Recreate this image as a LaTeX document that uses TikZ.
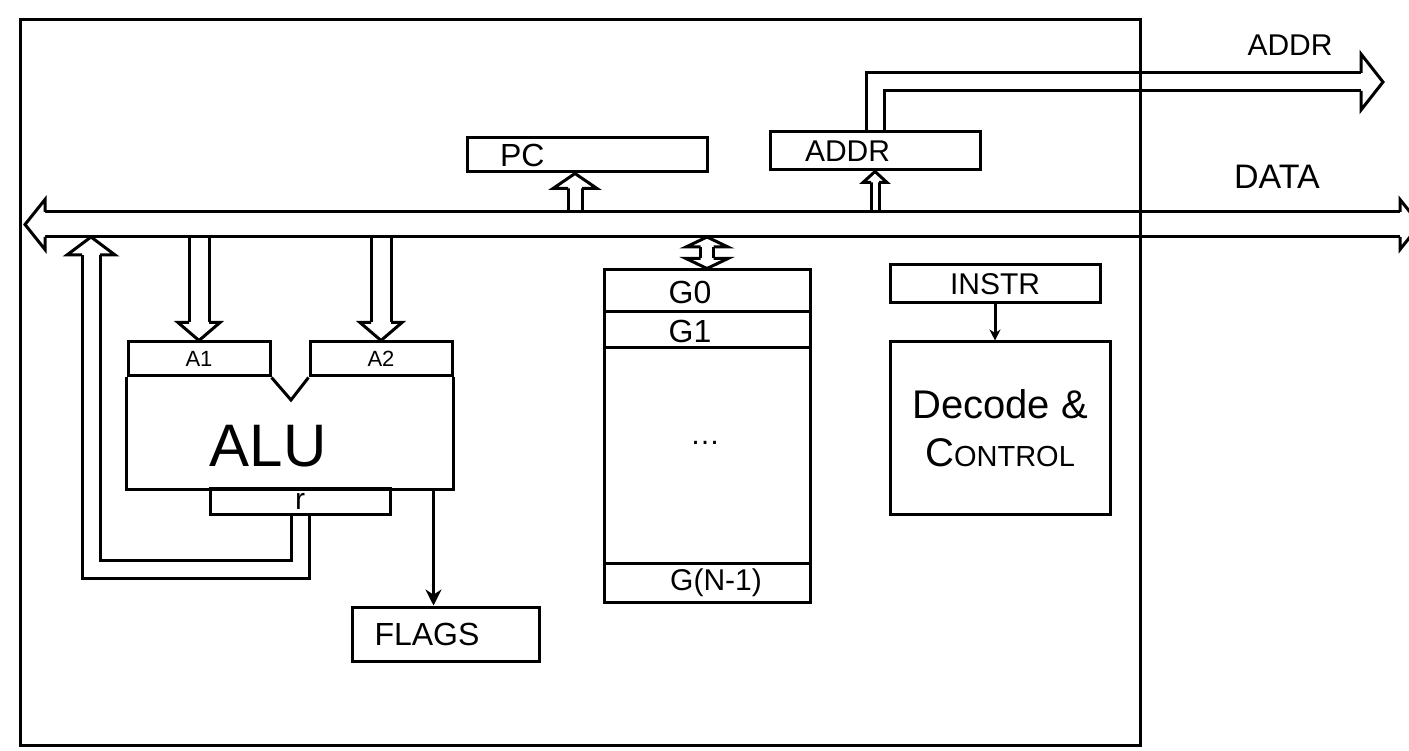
\documentclass[tikz,border=0pt]{standalone}
\usepackage{fontspec}
\setmainfont{Liberation Sans}
\usetikzlibrary{arrows.meta}
\newcommand\hand[2]{\fontsize{#1}{#2}\selectfont}
\begin{document}
\begin{tikzpicture}[x=1pt, y=-1pt, line width=3pt, line join=miter,
    box/.style={draw, inner sep=0pt},
    tag/.style={box, align=left, text width=#1},
    fatline/.style={double, double distance=#1},
    pics/fathead/.style args={#1/#2/#3}{code={
        \draw[fill=white] (-#3,#1) -- (-#3,#2) -- (0,0) -- (-#3,-#2) -- (-#3,-#1);}},
    flow/.style={-{Stealth[length=#1, width=#1]}}]
  \clip (0,0) rectangle (1409,751);
  % registers and units
  \node[tag=174pt, minimum width=240pt, minimum height=34pt, font=\hand{32}{38}] (pc) at (587,155) {PC};
  \node[tag=140pt, minimum width=210pt, minimum height=38pt, font=\hand{30}{36}] (addr) at (875,151) {ADDR};
  \node[box, minimum width=142pt, minimum height=34pt, font=\hand{22}{26}] (a1) at (199,359) {A1};
  \node[box, minimum width=142pt, minimum height=34pt, font=\hand{22}{26}] (a2) at (381,359) {A2};
  \node[minimum width=324pt, minimum height=112pt, inner sep=0pt] (alu) at (290,432) {};
  \node[font=\hand{60}{72}] (alutext) at (268,446) {ALU};
  \node[box, minimum width=180pt, minimum height=26pt, font=\hand{30}{34}] (r) at (300,501) {r};
  \node[tag=143pt, minimum width=187pt, minimum height=54pt, font=\hand{32}{38}] (flags) at (446,634) {FLAGS};
  \node[box, minimum width=206pt, minimum height=332pt] (regs) at (707,436) {};
  \node[box, minimum width=210pt, minimum height=38pt, font=\hand{30}{36}] (instr) at (995,284) {INSTR};
  \node[box, minimum width=220pt, minimum height=172pt, align=center, font=\hand{40}{48}] (decode) at (1000,428)
    {Decode \&\\C{\hand{29}{48}ONTROL}};
  % alu body with the notch
  \coordinate (notch) at (291,400);
  \draw (a1.south west) -- (alu.south west) -- (alu.south east) -- (a2.south east);
  \draw (a1.south east) -- (notch) -- (a2.south west);
  % register file rows
  \foreach \yy in {312,348,563}
    \draw (604,\yy) -- (810,\yy);
  \node[font=\hand{32}{38}] (g0) at (690,292) {G0};
  \node[font=\hand{32}{38}] (g1) at (690,331) {G1};
  \node[font=\hand{30}{36}] (gdots) at (705,443) {\dots};
  \node[font=\hand{30}{36}] (gn) at (716,583) {G(N-1)};
  % single arrows
  \coordinate (flagsin) at ([xshift=-20pt]alu.south east);
  \draw[flow=16pt] (flagsin) -- (flagsin |- flags.north);
  \draw[flow=11pt] (instr.south) -- (instr.south |- decode.north);
  % wide arrows to and from the bus
  \coordinate (bustop) at (0,212);
  \coordinate (busbot) at (0,237);
  \coordinate (pcin) at ([xshift=-12pt]pc.south);
  \draw[fatline=11pt, shorten >=15pt] (pcin |- bustop) -- (pcin);
  \pic[rotate=90] at (pcin) {fathead=7/22/15};
  \draw[fatline=5pt, shorten >=10pt] (addr.south |- bustop) -- (addr.south);
  \pic[rotate=90] at (addr.south) {fathead=4/12/11};
  \foreach \op in {a1,a2} {
    \draw[fatline=17pt, shorten >=18pt] (\op.north |- busbot) -- (\op.north);
    \pic[rotate=-90] at (\op.north) {fathead=10/21/18};
  }
  \coordinate (regsbus) at (regs.north |- busbot);
  \draw[fatline=10pt, shorten <=10pt, shorten >=10pt] (regsbus) -- (regs.north);
  \pic[rotate=90] at (regsbus) {fathead=6.5/21/10};
  \pic[rotate=-90] at (regs.north) {fathead=6.5/21/10};
  \coordinate (fbcorner) at (91,569);
  \coordinate (fbbus) at (fbcorner |- busbot);
  \draw[fatline=15pt, shorten >=18pt] (r.south) |- (fbcorner) -- (fbbus);
  \pic[rotate=90] at (fbbus) {fathead=9/24/18};
  % address out
  \coordinate (addrout) at (1383,82);
  \draw[fatline=15pt, shorten >=22pt] (addr.north) |- (addrout);
  \pic at (addrout) {fathead=9/28/22};
  \node[font=\hand{30}{36}] (addrlabel) at (1290,45) {ADDR};
  % data bus
  \coordinate (busL) at (25,224.5);
  \coordinate (busR) at (1420,224.5);
  \draw[fatline=22pt, shorten <=20pt, shorten >=20pt] (busL) -- (busR);
  \pic[rotate=180] at (busL) {fathead=12.5/25/20};
  \pic at (busR) {fathead=12.5/25/20};
  \node[font=\hand{34}{40}] (datalabel) at (1277,177) {DATA};
  % chip outline
  \draw (20,20) rectangle (1140,745);
\end{tikzpicture}
\end{document}
